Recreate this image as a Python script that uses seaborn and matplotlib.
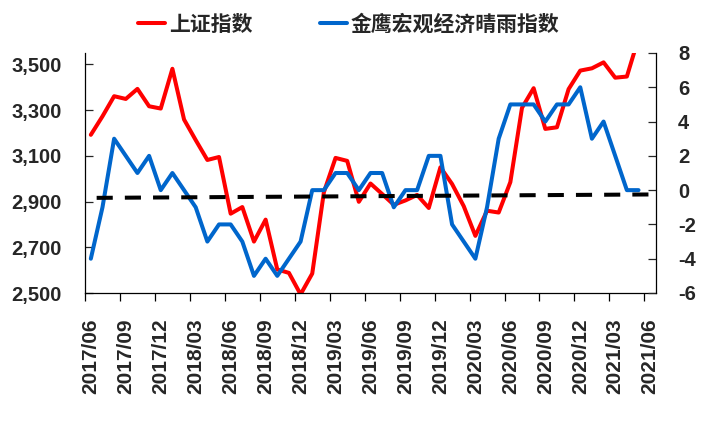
import matplotlib
matplotlib.use("Agg")
import matplotlib.pyplot as plt
import matplotlib.ticker as mticker
from matplotlib.lines import Line2D
import numpy as np
import pandas as pd
import seaborn as sns

# 月度数据 2017/06 - 2021/05
shanghai = [3192, 3273, 3361, 3349, 3393, 3317, 3307, 3481, 3259, 3169, 3082, 3095,
            2847, 2876, 2725, 2821, 2603, 2588, 2494, 2585, 2941, 3091, 3078, 2899,
            2979, 2933, 2886, 2905, 2929, 2872, 3050, 2977, 2880, 2750, 2860, 2852,
            2985, 3310, 3396, 3218, 3225, 3392, 3473, 3483, 3509, 3442, 3447, 3615]
jinying = [-4, -1, 3, 2, 1, 2, 0, 1, 0, -1, -3, -2,
           -2, -3, -5, -4, -5, -4, -3, 0, 0, 1, 1, 0,
           1, 1, -1, 0, 0, 2, 2, -2, -3, -4, -1, 3,
           5, 5, 5, 4, 5, 5, 6, 3, 4, 2, 0, 0]
# 虚线两端(右轴刻度)
dash_values = [-0.45, -0.25]

tick_labels = ["2017/06", "2017/09", "2017/12", "2018/03", "2018/06", "2018/09",
               "2018/12", "2019/03", "2019/06", "2019/09", "2019/12", "2020/03",
               "2020/06", "2020/09", "2020/12", "2021/03", "2021/06"]
n_months = 49

RED = "#FF0000"
BLUE = "#0066CC"

sns.set_style("ticks")
plt.rcParams["font.family"] = ["Liberation Sans", "DejaVu Sans"]
plt.rcParams["axes.unicode_minus"] = False

df = pd.DataFrame({"idx": np.arange(len(shanghai)), "shanghai": shanghai, "jinying": jinying})
dash_df = pd.DataFrame({"idx": [0.5, n_months - 0.5], "v": dash_values})

fig = plt.figure(figsize=(7.09, 4.25), dpi=100)
ax = fig.add_axes([85 / 709, 1 - 293 / 425, (656 - 85) / 709, 240 / 425])
ax2 = ax.twinx()

lw = 2.9
sns.lineplot(data=df, x="idx", y="shanghai", color=RED, linewidth=lw, ax=ax)
sns.lineplot(data=df, x="idx", y="jinying", color=BLUE, linewidth=lw, ax=ax2)
sns.lineplot(data=dash_df, x="idx", y="v", color="black", linewidth=lw,
             dashes=False, ax=ax2).lines[-1].set_dashes((4, 3))

ax.set_xlim(-0.5, n_months - 0.5)
ax.set_ylim(2500, 3550)
ax2.set_ylim(-6, 8)

ax.set_yticks(np.arange(2500, 3501, 200))
ax.yaxis.set_major_formatter(mticker.FuncFormatter(lambda v, p: f"{v:,.0f}"))
ax2.set_yticks(np.arange(-6, 9, 2))

# 刻度线在类别之间,标签在类别中心
ax.set_xticks(np.arange(-0.5, n_months - 1, 3))
ax.set_xticklabels([])
ax.set_xticks(np.arange(0, n_months, 3), minor=True)
ax.set_xticklabels(tick_labels, minor=True, rotation=90, fontsize=15, fontweight="bold")
ax.tick_params(axis="x", which="major", direction="out", length=6, width=0.9, color="black")
ax.tick_params(axis="x", which="minor", length=0, pad=18)

ax.tick_params(axis="y", direction="in", length=6, width=0.9, pad=17, labelsize=14.5)
ax2.tick_params(axis="y", direction="in", length=6, width=0.9, pad=16, labelsize=14.5)
for lab in ax.get_yticklabels() + ax2.get_yticklabels():
    lab.set_fontweight("bold")

for a in (ax, ax2):
    a.set_xlabel("")
    a.set_ylabel("")
    a.spines["top"].set_visible(False)
    for s in ("left", "right", "bottom"):
        a.spines[s].set_color("black")
        a.spines[s].set_linewidth(0.9)
ax.spines["right"].set_visible(False)
ax2.spines["left"].set_visible(False)
ax2.spines["bottom"].set_visible(False)

handles = [Line2D([0], [0], color=RED, linewidth=lw), Line2D([0], [0], color=BLUE, linewidth=lw)]
fig.legend(handles, ["上证指数", "金鹰宏观经济晴雨指数"], loc="center",
           bbox_to_anchor=(0.492, 0.9435), ncol=2, frameon=False,
           prop={"family": ["Noto Sans CJK SC", "DejaVu Sans"], "weight": "bold", "size": 15},
           handlelength=1.3, handletextpad=0.2, columnspacing=3.2)

fig.savefig("out.png", dpi=100)
